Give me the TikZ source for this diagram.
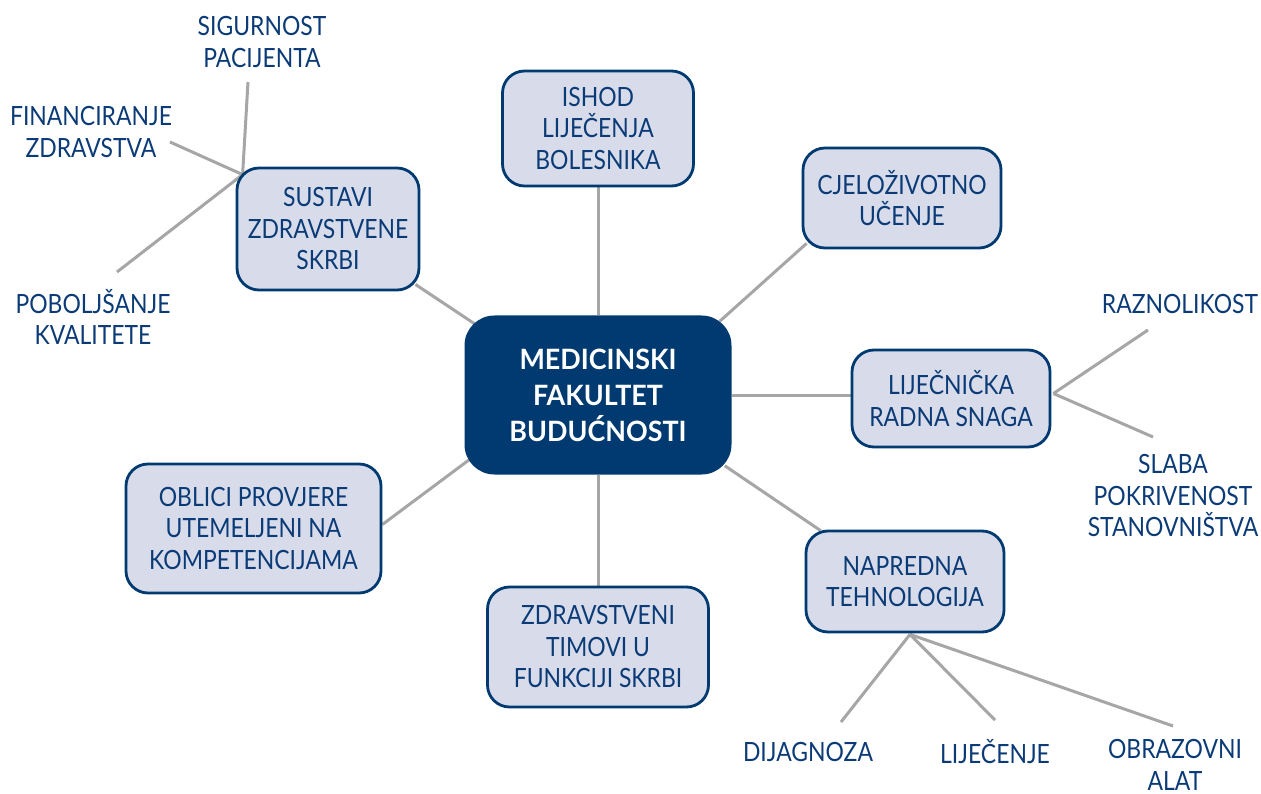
\documentclass[tikz,border=0pt]{standalone}
\usepackage{fontspec}
\setmainfont{Lato}[FakeStretch=0.865]
\newfontfamily\hubfont{Lato}[FakeStretch=0.96]
\usetikzlibrary{calc}
\pgfdeclarelayer{background}
\pgfsetlayers{background,main}
\definecolor{navy}{HTML}{003A70}
\definecolor{txtblue}{HTML}{0B3B77}
\definecolor{boxfill}{HTML}{D8DCEA}
\definecolor{linegray}{HTML}{A6A6A6}
\tikzset{
  box/.style={draw=navy, line width=2.8pt, fill=boxfill, rounded corners=22pt,
    align=center, text=txtblue, font=\fontsize{26.5}{31.5}\selectfont, inner sep=0pt},
  hub/.style={fill=navy, rounded corners=30pt, align=center, text=white,
    font=\hubfont\fontsize{28}{36}\selectfont\bfseries, inner sep=0pt},
  lbl/.style={align=center, text=txtblue, font=\fontsize{26.5}{31.5}\selectfont, inner sep=0pt},
  conn/.style={draw=linegray, line width=3pt}
}
\begin{document}
\begin{tikzpicture}[x=1pt,y=-1pt]
\useasboundingbox (0,0) rectangle (1261,794);
% main nodes
\node[hub, minimum width=267pt, minimum height=159pt] (c) at (598,395) {MEDICINSKI\\FAKULTET\\BUDUĆNOSTI};
\node[box, minimum width=191pt, minimum height=115pt] (ishod) at (598,128.5) {ISHOD\\LIJEČENJA\\BOLESNIKA};
\node[box, minimum width=198pt, minimum height=100pt] (cjelo) at (902,198) {CJELOŽIVOTNO\\UČENJE};
\node[box, minimum width=198pt, minimum height=97pt] (lij) at (951,398.5) {LIJEČNIČKA\\RADNA SNAGA};
\node[box, minimum width=198pt, minimum height=101pt] (napr) at (905,581.5) {NAPREDNA\\TEHNOLOGIJA};
\node[box, minimum width=221pt, minimum height=120pt] (zdr) at (598,647) {ZDRAVSTVENI\\TIMOVI U\\FUNKCIJI SKRBI};
\node[box, minimum width=255pt, minimum height=129pt] (obl) at (253.5,528.5) {OBLICI PROVJERE\\UTEMELJENI NA\\KOMPETENCIJAMA};
\node[box, minimum width=182pt, minimum height=122pt] (sus) at (328,229) {SUSTAVI\\ZDRAVSTVENE\\SKRBI};
% labels
\node[lbl] (sig) at (262,42) {SIGURNOST\\PACIJENTA};
\node[lbl] (fin) at (91,132) {FINANCIRANJE\\ZDRAVSTVA};
\node[lbl] (pob) at (93,317) {POBOLJŠANJE\\KVALITETE};
\node[lbl] (raz) at (1180,304) {RAZNOLIKOST};
\node[lbl] (slaba) at (1173,496) {SLABA\\POKRIVENOST\\STANOVNIŠTVA};
\node[lbl] (dij) at (808,752) {DIJAGNOZA};
\node[lbl] (lijc) at (995,752) {LIJEČENJE};
\node[lbl] (obr) at (1175,765) {OBRAZOVNI\\ALAT};
% connector end points
\coordinate (sh) at ($(sus.north west)+(7,8)$);
\coordinate (sigE) at (248,82);
\coordinate (finE) at (170,142);
\coordinate (pobE) at (117,272);
\coordinate (lh) at ($(lij.east)+(2,-5)$);
\coordinate (razE) at (1148,330);
\coordinate (slabaE) at (1153,437);
\coordinate (nh) at ($(napr.south)+(5,1)$);
\coordinate (dijE) at (841,722);
\coordinate (lijcE) at (995,720);
\coordinate (obrE) at (1173,726);
\begin{pgfonlayer}{background}
\draw[conn] (c.north) -- (ishod.south);
\draw[conn] ($(c.north east)+(-12,6)$) -- ($(cjelo.south west)+(5,-6)$);
\draw[conn] (c.east) -- (c.east -| lij.west);
\draw[conn] ($(c.south east)+(-7,-9)$) -- ($(napr.north west)+(16,1)$);
\draw[conn] (c.south) -- (zdr.north);
\draw[conn] ($(c.south west)+(5,-15)$) -- ($(obl.east)+(0,-4)$);
\draw[conn] ($(c.north west)+(11,9)$) -- ($(sus.south east)+(-5,-7)$);
\draw[conn] (sh) -- (sigE);
\draw[conn] (sh) -- (finE);
\draw[conn] (sh) -- (pobE);
\draw[conn] (lh) -- (razE);
\draw[conn] (lh) -- (slabaE);
\draw[conn] (nh) -- (dijE);
\draw[conn] (nh) -- (lijcE);
\draw[conn] (nh) -- (obrE);
\end{pgfonlayer}
\end{tikzpicture}
\end{document}
